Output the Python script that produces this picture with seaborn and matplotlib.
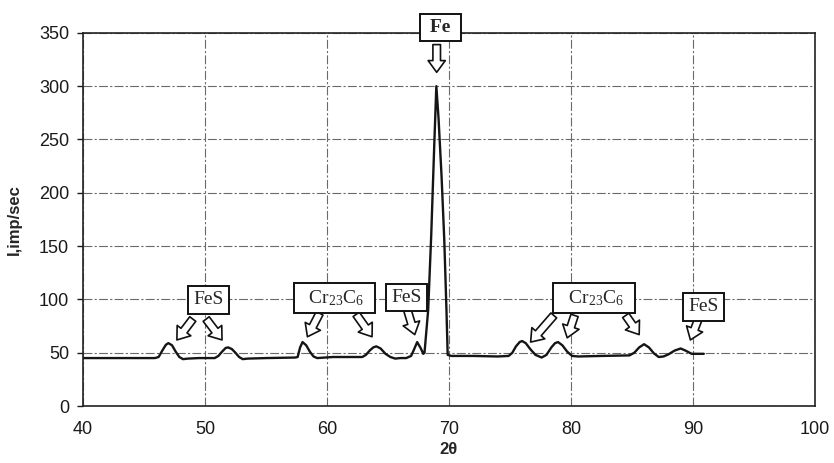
import numpy as np
import pandas as pd
import matplotlib
matplotlib.use("Agg")
import matplotlib.pyplot as plt
import seaborn as sns

# diffraction pattern (2theta, intensity)
two_theta = [40.0, 42.0, 44.0, 45.5, 45.9, 46.2, 46.5, 46.8, 47.0, 47.3, 47.6, 47.9, 48.2, 48.6,
             49.5, 50.8, 51.1, 51.4, 51.7, 51.9, 52.2, 52.5, 52.8, 53.1, 53.5, 55.0, 57.4,
             57.6, 57.8, 58.0, 58.3, 58.6, 58.9, 59.2, 60.5, 62.0, 62.9, 63.2, 63.5, 63.8,
             64.05, 64.4, 64.8, 65.2, 65.6, 66.0, 66.5, 66.9, 67.1, 67.4, 67.7, 67.9, 68.0,
             68.3, 68.55, 68.8, 68.97, 69.15, 69.4, 69.62, 69.8, 69.9, 70.2, 72.0, 74.0,
             74.9, 75.2, 75.5, 75.8, 76.0, 76.3, 76.7, 77.1, 77.6, 78.0, 78.4, 78.7, 78.95,
             79.3, 79.7, 80.1, 80.6, 82.5, 84.8, 85.2, 85.6, 86.0, 86.4, 86.8, 87.2, 87.6,
             88.0, 88.5, 89.0, 89.4, 89.9, 90.3, 90.9]
intensity = [45, 45, 45, 45, 45, 46, 52, 57.5, 59, 57, 51, 46, 44, 44.5,
             45, 45, 47, 51, 54.5, 55, 53.5, 50, 46, 44, 44.5, 45, 45.5,
             46, 55, 60, 57, 51, 46.5, 45, 46, 46, 46, 48, 52, 55,
             56, 54, 49, 46, 44.5, 45, 45, 47, 52, 60, 54, 49, 50,
             90, 160, 245, 300, 270, 215, 156, 90, 48, 47, 47, 46.5,
             47, 50, 56, 60, 61, 59, 53, 48, 45.5, 48, 55, 59, 60,
             57, 51, 47, 46.5, 47, 47.5, 50, 55, 58, 55, 49.5, 46, 46.5,
             48.5, 52, 54, 52, 49, 49, 49]

# phase labels: text, box centre (x, y)
labels = [" Fe ", "FeS", r"  $\mathrm{Cr_{23}C_6}$  ", "FeS", r"  $\mathrm{Cr_{23}C_6}$  ", "FeS"]
label_x = [69.3, 50.3, 60.6, 66.5, 81.9, 90.9]
label_y = [355, 99.5, 101, 102, 101, 93]

# arrows: tail (x, y) -> tip (x, y)
arrow_tail_x = [69.0, 49.0, 50.1, 59.4, 62.4, 66.6, 78.6, 80.3, 84.5, 90.5]
arrow_tail_y = [339, 81.6, 81.6, 87, 86, 90, 85, 85, 85, 83]
arrow_tip_x = [69.0, 47.7, 51.4, 58.4, 63.7, 67.2, 76.7, 79.7, 85.6, 89.8]
arrow_tip_y = [313, 62, 62, 65, 65, 67, 60, 64, 67, 62]

sns.set_style("white")
plt.rcParams["font.family"] = ["Liberation Sans", "DejaVu Sans"]
plt.rcParams["mathtext.fontset"] = "custom"
plt.rcParams["mathtext.rm"] = "Liberation Serif"

df = pd.DataFrame({"two_theta": two_theta, "intensity": intensity})

fig, ax = plt.subplots(figsize=(8.34, 4.63), dpi=100)
fig.subplots_adjust(left=0.0995, right=0.977, bottom=0.123, top=0.929)

sns.lineplot(data=df, x="two_theta", y="intensity", color="#151515", linewidth=1.7, ax=ax)

ax.set_xlim(40, 100)
ax.set_ylim(0, 350)
ax.set_xticks(range(40, 101, 10))
ax.set_yticks(range(0, 351, 50))
ax.grid(True, color="#6a6a6a", linestyle=(0, (8, 2, 2, 2)), linewidth=0.8)
for s in ax.spines.values():
    s.set_visible(True)
    s.set_color("#222222")
    s.set_linewidth(1.2)
ax.tick_params(axis="both", labelsize=13, colors="#1a1a1a")
ax.tick_params(axis="x", length=0, pad=11)
ax.tick_params(axis="y", length=4, width=1, direction="out", left=True, pad=6)

ax.set_xlabel("2θ", fontsize=12, fontweight="bold", labelpad=3)
ax.set_ylabel("I,imp/sec", fontsize=12, fontweight="bold", labelpad=12)

for i, (t, x, y) in enumerate(zip(labels, label_x, label_y)):
    ax.text(x, y, t, ha="center", va="center",
            fontsize=14, fontfamily="Liberation Serif", clip_on=False, zorder=5,
            fontweight="bold" if i == 0 else "normal",
            bbox=dict(boxstyle="square,pad=0.27", fc="white", ec="#111111", lw=1.4))

for tx, ty, hx, hy in zip(arrow_tail_x, arrow_tail_y, arrow_tip_x, arrow_tip_y):
    ax.annotate("", xy=(hx, hy), xytext=(tx, ty), annotation_clip=False,
                arrowprops=dict(arrowstyle="simple,head_length=0.65,head_width=0.95,tail_width=0.42",
                                fc="white", ec="#111111", lw=1.2, mutation_scale=13,
                                shrinkA=0, shrinkB=0))

fig.savefig("out.png", dpi=100, facecolor="white")
